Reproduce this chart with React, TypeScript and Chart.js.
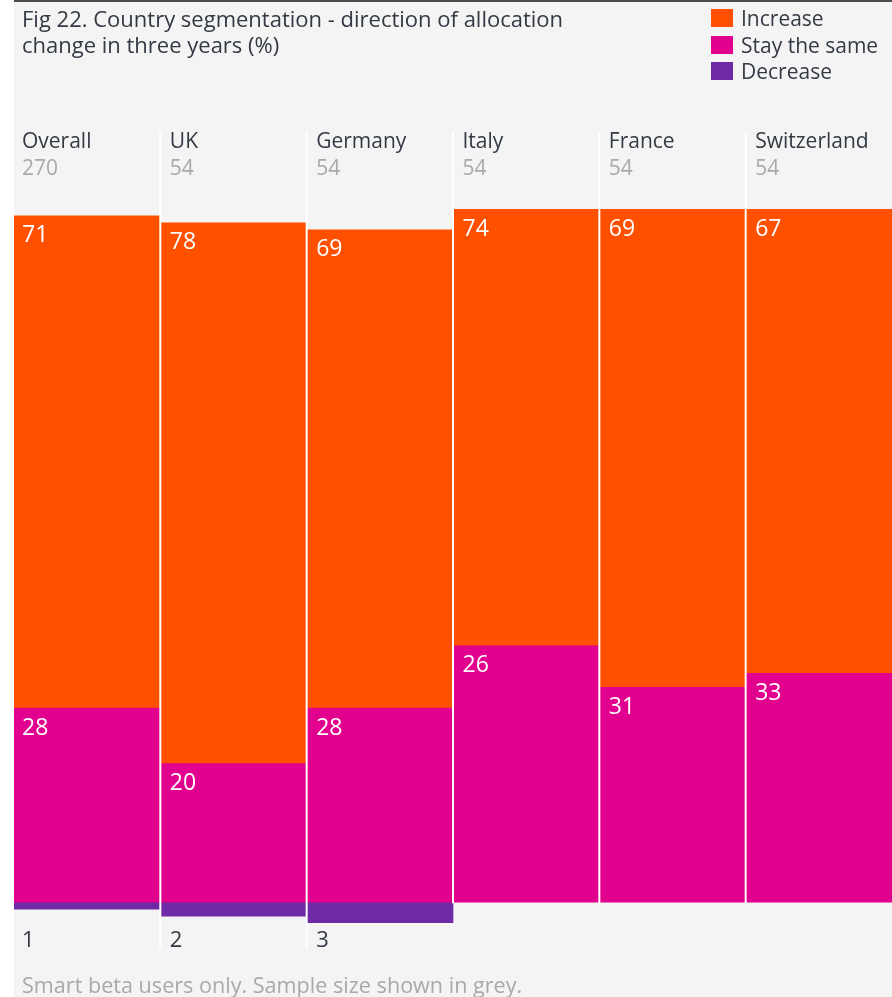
import React, { useEffect, useRef } from "react";
import { Chart, registerables } from "chart.js";
Chart.register(...registerables);

const categories = ["Overall", "UK", "Germany", "Italy", "France", "Switzerland"];
const sampleSizes = ["270", "54", "54", "54", "54", "54"];
// Printed values
const increaseLabels = [71, 78, 69, 74, 69, 67];
const stayLabels = [28, 20, 28, 26, 31, 33];
const decrease = [1, 2, 3, 0, 0, 0];
// Segment heights as drawn in the reference (Italy's split is drawn at ~63/37)
const increase = [71, 78, 69, 63, 69, 67];
const stay = [28, 20, 28, 37, 31, 33];

const seriesNames = ["Increase", "Stay the same", "Decrease"];
const COLORS = { increase: "#ff5000", stay: "#e2008e", decrease: "#6f2aa6" };
const FONT = '"Open Sans", "Liberation Sans", Arial, sans-serif';
const BG = "#f4f4f4";
const DARK = "#333a44";
const GREY = "#a9a9a9";

const decoPlugin = {
  id: "deco",
  beforeDraw(chart: any) {
    const { ctx, width, height } = chart;
    ctx.save();
    ctx.fillStyle = "#ffffff";
    ctx.fillRect(0, 0, width, height);
    ctx.fillStyle = BG;
    ctx.fillRect(14, 0, width - 14, height);
    ctx.fillStyle = "#4a4a4a";
    ctx.fillRect(14, 0, width - 14, 2);
    ctx.restore();
  },
  afterDatasetsDraw(chart: any) {
    const { ctx, chartArea, scales } = chart;
    const x = scales.x;
    const y = scales.y;
    const colW = chartArea.width / categories.length;
    ctx.save();
    ctx.textBaseline = "middle";
    ctx.textAlign = "left";
    categories.forEach((cat, i) => {
      const left = x.getPixelForValue(i) - colW / 2;
      const tx = left + (i === 0 ? 8 : 9.5);
      if (i > 0) {
        const bottom = decrease[i] > 0 ? 949 : y.getPixelForValue(0) + 1;
        ctx.fillStyle = "#ffffff";
        ctx.fillRect(left - 1, 131, 2, bottom - 131);
      }
      ctx.font = `21px ${FONT}`;
      ctx.fillStyle = DARK;
      ctx.fillText(cat, tx, 142);
      ctx.fillStyle = GREY;
      ctx.fillText(sampleSizes[i], tx, 169);
      ctx.font = `23px ${FONT}`;
      ctx.fillStyle = "#ffffff";
      const topInc = y.getPixelForValue(stay[i] + increase[i]);
      ctx.fillText(String(increaseLabels[i]), tx, topInc + 20);
      const topStay = y.getPixelForValue(stay[i]);
      ctx.fillText(String(stayLabels[i]), tx, topStay + 20);
      if (decrease[i] > 0) {
        ctx.fillStyle = DARK;
        ctx.font = `22px ${FONT}`;
        ctx.fillText(String(decrease[i]), tx, 941);
      }
    });
    ctx.restore();
  },
};

export default function App() {
  const ref = useRef<HTMLCanvasElement>(null);
  useEffect(() => {
    const chart = new Chart(ref.current!, {
      type: "bar",
      data: {
        labels: categories,
        datasets: [
          { label: seriesNames[1], data: stay, backgroundColor: COLORS.stay },
          { label: seriesNames[0], data: increase, backgroundColor: COLORS.increase },
          { label: seriesNames[2], data: decrease.map((v) => -v), backgroundColor: COLORS.decrease },
        ],
      },
      options: {
        animation: false,
        responsive: false,
        devicePixelRatio: 1,
        layout: { padding: { top: 209, bottom: 74, left: 14, right: 0 } },
        datasets: { bar: { barPercentage: 1, categoryPercentage: 1, borderWidth: 0 } },
        plugins: { legend: { display: false }, title: { display: false }, tooltip: { enabled: false } },
        scales: {
          x: { stacked: true, display: false },
          y: { stacked: true, display: false, min: -3, max: 100 },
        },
      },
      plugins: [decoPlugin],
    });
    return () => chart.destroy();
  }, []);

  const legend = [
    { name: seriesNames[0], color: COLORS.increase, top: 9 },
    { name: seriesNames[1], color: COLORS.stay, top: 36 },
    { name: seriesNames[2], color: COLORS.decrease, top: 62 },
  ];

  return (
    <div style={{ position: "fixed", left: 0, top: 0, width: 892, height: 997, fontFamily: FONT }}>
      <canvas ref={ref} width={892} height={997} style={{ position: "absolute", left: 0, top: 0 }} />
      <div style={{ position: "absolute", left: 22, top: 5, fontSize: 22, lineHeight: "26px", color: DARK, width: 640, whiteSpace: "nowrap" }}>
        Fig 22. Country segmentation - direction of allocation
        <br />
        change in three years (%)
      </div>
      {legend.map((l) => (
        <div key={l.name} style={{ position: "absolute", left: 711, top: l.top, height: 18, display: "flex", alignItems: "center" }}>
          <div style={{ width: 22, height: 18, background: l.color }} />
          <div style={{ marginLeft: 8, fontSize: 21, color: DARK, lineHeight: "18px", whiteSpace: "nowrap" }}>{l.name}</div>
        </div>
      ))}
      <div style={{ position: "absolute", left: 22, top: 972, fontSize: 21.6, lineHeight: "26px", color: GREY, whiteSpace: "nowrap" }}>
        Smart beta users only. Sample size shown in grey.
      </div>
    </div>
  );
}
